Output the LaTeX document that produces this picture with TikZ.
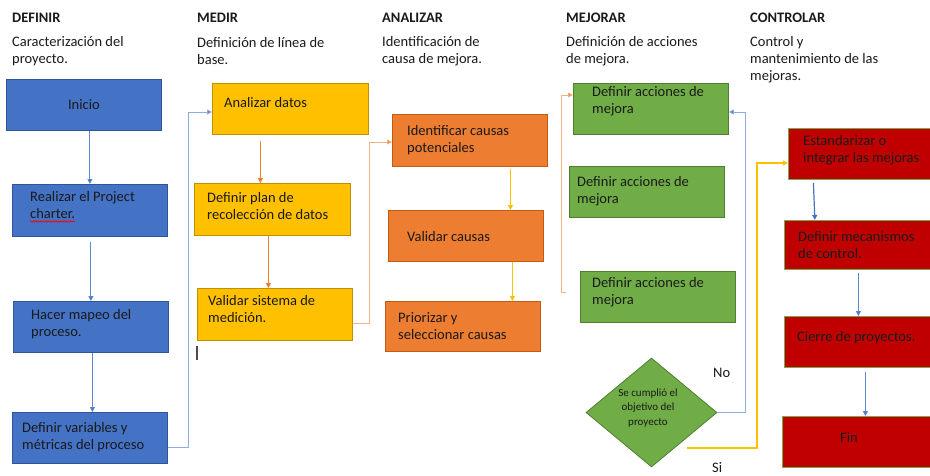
\documentclass[tikz,border=0pt]{standalone}
\usepackage{fontspec}
\setmainfont{Carlito}
\usetikzlibrary{arrows.meta,shapes.geometric,decorations.pathmorphing}
\definecolor{bfill}{HTML}{4472C4}
\definecolor{bline}{HTML}{2F5597}
\definecolor{yfill}{HTML}{FFC000}
\definecolor{yline}{HTML}{BF9000}
\definecolor{ofill}{HTML}{ED7D31}
\definecolor{oline}{HTML}{C55A11}
\definecolor{gfill}{HTML}{70AD47}
\definecolor{gline}{HTML}{507E32}
\definecolor{rfill}{HTML}{C00000}
\definecolor{bconn}{HTML}{5B86D0}
\definecolor{bconnl}{HTML}{8FAADC}
\definecolor{oconn}{HTML}{ED7D31}
\definecolor{oconnl}{HTML}{F4B183}
\definecolor{yconn}{HTML}{FFC000}
\definecolor{ink}{HTML}{1A1A1A}
\begin{document}
\begin{tikzpicture}[x=1pt,y=-1pt,
  box/.style={draw, line width=0.8pt, inner sep=0pt, anchor=north west},
  bbox/.style={box, fill=bfill, draw=bline},
  ybox/.style={box, fill=yfill, draw=yline},
  obox/.style={box, fill=ofill, draw=oline},
  gbox/.style={box, fill=gfill, draw=gline},
  rbox/.style={box, fill=rfill, draw=gfill},
  txt/.style={font=\fontsize{14.5}{17}\selectfont, inner sep=0pt, align=left, text=ink, anchor=west},
  head/.style={font=\fontsize{14.5}{17}\selectfont\bfseries, inner sep=0pt, text=ink, anchor=west},
  arr/.style={-{Triangle[length=5pt,width=5pt]}, line width=0.9pt},
  barr/.style={arr, draw=bconn, -{Triangle[length=5pt,width=5pt,fill=bfill]}},
  oarr/.style={arr, draw=oconn},
  yarr/.style={arr, draw=yconn}
]
\useasboundingbox (0,0) rectangle (930,475);
\clip (0,0) rectangle (930,475);
\fill[white] (0,0) rectangle (930,475);

% headers
\node[head] (h1) at (12,18) {DEFINIR};
\node[head] (h2) at (197,18) {MEDIR};
\node[head] (h3) at (382,18) {ANALIZAR};
\node[head] (h4) at (566,18) {MEJORAR};
\node[head] (h5) at (750,18) {CONTROLAR};
\node[txt] (s1) at (12,51.5) {Caracterización del\\proyecto.};
\node[txt] (s2) at (197,51.5) {Definición de línea de\\base.};
\node[txt] (s3) at (382,51.5) {Identificación de\\causa de mejora.};
\node[txt] (s4) at (566,51.5) {Definición de acciones\\de mejora.};
\node[txt] (s5) at (750,60) {Control y\\mantenimiento de las\\mejoras.};

% DEFINIR
\node[bbox, minimum width=155pt, minimum height=51pt] (inicio) at (6,79) {};
\node[bbox, minimum width=155pt, minimum height=52pt] (realizar) at (12,184) {};
\node[bbox, minimum width=155pt, minimum height=51pt] (hacer) at (13,301) {};
\node[bbox, minimum width=155pt, minimum height=51pt] (defvar) at (12,412) {};
\node[txt, anchor=center] (t-inicio) at (inicio.center) {Inicio};
\node[txt] (t-realizar) at (30,205.5) {Realizar el Project\\charter.};
\node[txt] (t-hacer) at (31,324) {Hacer mapeo del\\proceso.};
\node[txt] (t-defvar) at (22,437) {Definir variables y\\métricas del proceso};
\draw[red, line width=0.6pt, decorate, decoration={snake, amplitude=0.7pt, segment length=2.5pt}] (30,221.5) -- (75,221.5);

% MEDIR
\node[ybox, minimum width=156pt, minimum height=51pt] (analizar) at (212,83) {};
\node[ybox, minimum width=156pt, minimum height=52pt] (plan) at (194,183) {};
\node[ybox, minimum width=155pt, minimum height=52pt] (valsis) at (197,288) {};
\node[txt] (t-analizar) at (224,103) {Analizar datos};
\node[txt] (t-plan) at (207,206.5) {Definir plan de\\recolección de datos};
\node[txt] (t-valsis) at (208,309) {Validar sistema de\\medición.};
\draw[black!70, line width=1.3pt] (197,346) -- (197,360);

% ANALIZAR
\node[obox, minimum width=155pt, minimum height=52pt] (ident) at (392,114) {};
\node[obox, minimum width=155pt, minimum height=51pt] (valcau) at (388,210) {};
\node[obox, minimum width=155pt, minimum height=50pt] (prior) at (385,301) {};
\node[txt] (t-ident) at (407,140.5) {Identificar causas\\potenciales};
\node[txt] (t-valcau) at (407,237) {Validar causas};
\node[txt] (t-prior) at (398,326) {Priorizar y\\seleccionar causas};

% MEJORAR
\node[gbox, minimum width=155pt, minimum height=51pt] (acc1) at (573,83) {};
\node[gbox, minimum width=155pt, minimum height=51pt] (acc2) at (569,166) {};
\node[gbox, minimum width=155pt, minimum height=51pt] (acc3) at (580,271) {};
\node[txt] (t-acc1) at (592,101.5) {Definir acciones de\\mejora};
\node[txt] (t-acc2) at (577,191.5) {Definir acciones de\\mejora};
\node[txt] (t-acc3) at (592,292.5) {Definir acciones de\\mejora};
\node[diamond, draw=gline, fill=gfill, line width=0.8pt, inner sep=0pt, minimum width=131pt, minimum height=109pt, aspect=1.2] (dec) at (651.5,412.5) {};
\node[font=\fontsize{11}{14.5}\selectfont, align=center, text=ink, inner sep=0pt] (t-dec) at (648,408) {Se cumplió el\\objetivo del\\proyecto};
\node[txt] (no) at (713,373) {No};
\node[txt] (si) at (712,468) {Si};
\node[font=\fontsize{6}{6}\selectfont, text=black!50, inner sep=0pt] (dot) at (733,383) {.};

% CONTROLAR
\node[rbox, minimum width=147pt, minimum height=51pt] (estand) at (788,128) {};
\node[rbox, minimum width=151pt, minimum height=49pt] (defmec) at (784,220) {};
\node[rbox, minimum width=151pt, minimum height=51pt] (cierre) at (784,316) {};
\node[rbox, minimum width=153pt, minimum height=51pt] (fin) at (782,416) {};
\node[txt] (t-estand) at (803,150) {Estandarizar o\\integrar las mejoras};
\node[txt] (t-defmec) at (798,245.5) {Definir mecanismos\\de control.};
\node[txt] (t-cierre) at (797,338) {Cierre de proyectos.};
\node[txt, anchor=center] (t-fin) at (849,438) {Fin};

% connectors
\coordinate (j1) at (188,112);
\coordinate (j2) at (369,142);
\coordinate (j3) at (561,95);
\coordinate (o1) at (566,292);
\coordinate (j4) at (745,112);
\coordinate (y1) at (687,448);
\coordinate (j5) at (757,163);

\draw[barr] (realizar.north |- inicio.south) -- (realizar.north);
\draw[barr] ([yshift=-5pt]hacer.north |- realizar.south) -- (hacer.north);
\draw[barr] ([xshift=1.5pt]hacer.south) -- ([xshift=1.5pt]hacer.south |- defvar.north);
\draw[barr, draw=bconnl] ([yshift=-9.5pt]defvar.east) -| (j1) -- (j1 -| analizar.west);

\draw[oarr] ([xshift=-30pt,yshift=-6pt]analizar.south) -- ([xshift=-30pt]analizar.south |- plan.north);
\draw[oarr] ([xshift=-4pt]plan.south) -- ([xshift=-4pt]plan.south |- valsis.north);
\draw[oarr, draw=oconnl, -{Triangle[length=5pt,width=5pt,fill=oconn]}] ([yshift=-9pt]valsis.east) -| (j2) -- (j2 -| ident.west);

\draw[yarr] ([xshift=40.5pt,yshift=-2pt]ident.south) -- ([xshift=40.5pt]ident.south |- valcau.north);
\draw[yarr] ([xshift=46.5pt]valcau.south) -- ([xshift=46.5pt]valcau.south |- prior.north);
\draw[oarr, draw=oconnl, -{Triangle[length=5pt,width=5pt,fill=oconn]}] (o1) -| (j3) -- (j3 -| acc1.west);

\draw[barr, draw=bconnl] (dec.east) -| (j4) -- (j4 -| acc1.east);
\draw[yarr, line width=1.2pt] (y1) -| (j5) -- (j5 -| estand.west);

\draw[barr, line width=1.2pt, draw=bfill] ([xshift=-48.5pt,yshift=-3pt]estand.south) -- ([xshift=-47pt]estand.south |- defmec.north);
\draw[barr] ([xshift=-1.5pt,yshift=-3pt]defmec.south) -- ([xshift=-1.5pt]defmec.south |- cierre.north);
\draw[barr] ([xshift=5.5pt,yshift=-4pt]cierre.south) -- ([xshift=5.5pt]cierre.south |- fin.north);
\end{tikzpicture}
\end{document}
